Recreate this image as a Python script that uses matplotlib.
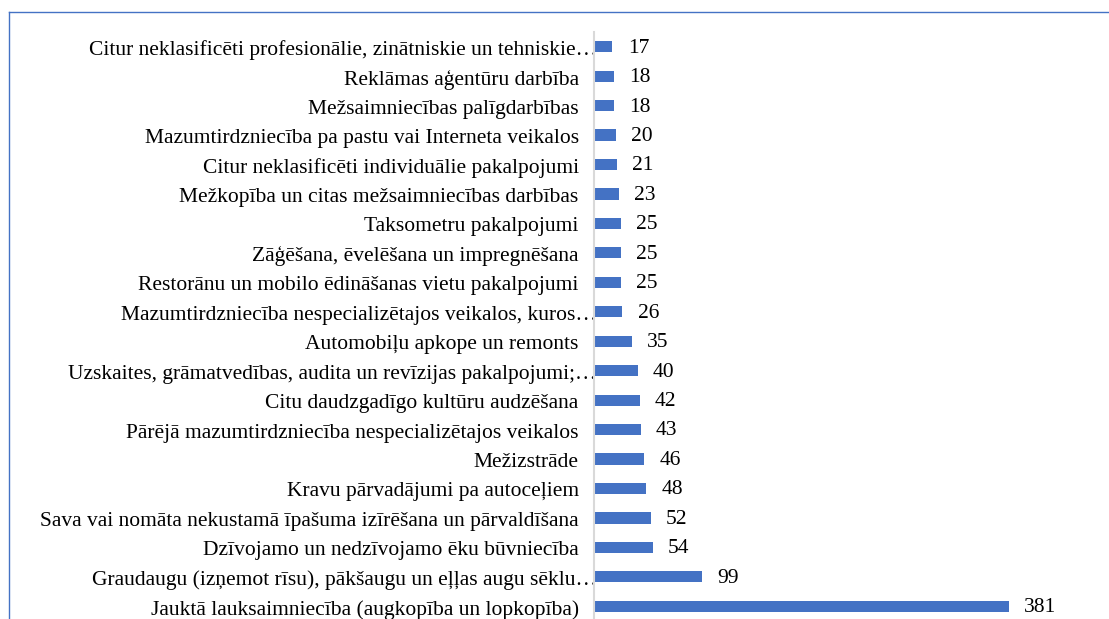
import matplotlib.pyplot as plt
from matplotlib.lines import Line2D
from matplotlib.transforms import ScaledTranslation

# dati (no augšas uz leju)
nozares = [
    "Citur neklasificēti profesionālie, zinātniskie un tehniskie…",
    "Reklāmas aģentūru darbība",
    "Mežsaimniecības palīgdarbības",
    "Mazumtirdzniecība pa pastu vai Interneta veikalos",
    "Citur neklasificēti individuālie pakalpojumi",
    "Mežkopība un citas mežsaimniecības darbības",
    "Taksometru pakalpojumi",
    "Zāģēšana, ēvelēšana un impregnēšana",
    "Restorānu un mobilo ēdināšanas vietu pakalpojumi",
    "Mazumtirdzniecība nespecializētajos veikalos, kuros…",
    "Automobiļu apkope un remonts",
    "Uzskaites, grāmatvedības, audita un revīzijas pakalpojumi;…",
    "Citu daudzgadīgo kultūru audzēšana",
    "Pārējā mazumtirdzniecība nespecializētajos veikalos",
    "Mežizstrāde",
    "Kravu pārvadājumi pa autoceļiem",
    "Sava vai nomāta nekustamā īpašuma izīrēšana un pārvaldīšana",
    "Dzīvojamo un nedzīvojamo ēku būvniecība",
    "Graudaugu (izņemot rīsu), pākšaugu un eļļas augu sēklu…",
    "Jauktā lauksaimniecība (augkopība un lopkopība)",
]
skaits = [17, 18, 18, 20, 21, 23, 25, 25, 25, 26, 35, 40, 42, 43, 46, 48, 52, 54, 99, 381]

plt.rcParams["font.family"] = ["Liberation Serif", "DejaVu Serif"]

W, H = 1109, 619
fig = plt.figure(figsize=(W / 100, H / 100), dpi=100)

# asis pikseļos: kreisā mala 594, augša 32, apakša 621
left, top, bottom = 594, 32, 621
xmax = 450
px_per_unit = 1.088
ax = fig.add_axes([left / W, 1 - bottom / H, xmax * px_per_unit / W, (bottom - top) / H])

y = list(range(len(nozares)))
ax.barh(y, skaits, height=0.38, color="#4472C4")
ax.set_ylim(len(nozares) - 0.5, -0.5)
ax.set_xlim(0, xmax)

for yi, v in zip(y, skaits):
    ax.annotate(str(v), (v, yi), xytext=(11, -1), textcoords="offset points",
                va="center", ha="left", fontsize=15.5)

ax.set_yticks(y)
ax.set_yticklabels(nozares, fontsize=15.5)
ax.tick_params(axis="y", length=0, pad=11)
# saīsinātie nosaukumi (ar …) pieskaras asij
for lbl in ax.get_yticklabels():
    if lbl.get_text().endswith("…"):
        lbl.set_transform(lbl.get_transform() + ScaledTranslation(18 / 100, 0, fig.dpi_scale_trans))
    lbl.set_transform(lbl.get_transform() + ScaledTranslation(0, -1 / 100, fig.dpi_scale_trans))
ax.set_xticks([])
for s in ["top", "right", "bottom"]:
    ax.spines[s].set_visible(False)
ax.spines["left"].set_color("#D9D9D9")
ax.spines["left"].set_linewidth(1.5)

# diagrammas rāmis (apgriezts)
fig.add_artist(Line2D([9 / W, 1.0], [1 - 12 / H, 1 - 12 / H], color="#4472C4", lw=1.0, transform=fig.transFigure))
fig.add_artist(Line2D([9 / W, 9 / W], [1 - 12 / H, 0], color="#4472C4", lw=1.0, transform=fig.transFigure))

fig.savefig("out.png", dpi=100)
